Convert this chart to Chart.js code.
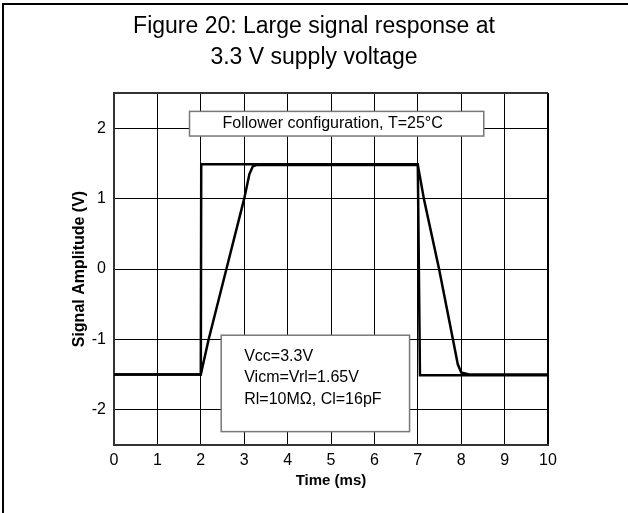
<!DOCTYPE html>
<html>
<head>
<meta charset="utf-8">
<script src="https://cdn.jsdelivr.net/npm/chart.js@4/dist/chart.umd.min.js"></script>
<style>
  body { margin: 0; background: #fff; }
  canvas { display: block; }
</style>
</head>
<body>
<canvas id="lineChart" width="628" height="513"></canvas>
<script>
// Values
const inputTime = [0, 2.0, 2.01, 7.0, 7.05, 10];
const inputVolt = [-1.5, -1.5, 1.49, 1.49, -1.51, -1.51];

const outputTime = [0, 2.0, 2.18, 2.59, 3.0, 3.12, 3.2, 3.3, 7.0, 7.14, 7.49, 7.81, 7.92, 8.0, 8.2, 10];
const outputVolt = [-1.5, -1.5, -1.0, 0, 1.0, 1.35, 1.46, 1.48, 1.48, 1.0, 0, -1.0, -1.35, -1.47, -1.5, -1.5];

const xTicks = [0, 1, 2, 3, 4, 5, 6, 7, 8, 9, 10];
const yTicks = [-2, -1, 0, 1, 2];
const yMin = -2.5;
const yMax = 2.5;

const titleLines = ['Figure 20: Large signal response at', '3.3 V supply voltage'];
const configText = 'Follower configuration, T=25°C';
const conditionLines = ['Vcc=3.3V', 'Vicm=Vrl=1.65V', 'Rl=10MΩ, Cl=16pF'];

const FONT = "'Liberation Sans', Arial, sans-serif";

// turn the parallel arrays into {x, y} points
function toPoints(xs, ys) {
  return xs.map((x, i) => ({ x: x, y: ys[i] }));
}

// frame lines and the two text boxes
const figureExtras = {
  id: 'figureExtras',
  beforeDraw(chart) {
    const ctx = chart.ctx;
    ctx.save();
    ctx.fillStyle = '#fff';
    ctx.fillRect(0, 0, chart.width, chart.height);
    ctx.strokeStyle = '#000';
    ctx.lineWidth = 2;
    ctx.beginPath();
    ctx.moveTo(3, chart.height);
    ctx.lineTo(3, 4);
    ctx.lineTo(chart.width, 4);
    ctx.stroke();
    ctx.restore();
  },
  afterDatasetsDraw(chart) {
    const ctx = chart.ctx;
    const xs = chart.scales.x;
    const ys = chart.scales.y;

    function box(x0, x1, y0, y1) {
      const l = xs.getPixelForValue(x0), r = xs.getPixelForValue(x1);
      const t = ys.getPixelForValue(y0), b = ys.getPixelForValue(y1);
      ctx.fillStyle = '#fff';
      ctx.fillRect(l, t, r - l, b - t);
      ctx.strokeStyle = '#777';
      ctx.lineWidth = 1.5;
      ctx.strokeRect(l, t, r - l, b - t);
      return { l: l, t: t };
    }

    ctx.save();
    ctx.font = '16px ' + FONT;
    ctx.textBaseline = 'middle';
    ctx.textAlign = 'left';

    const b1 = box(1.74, 8.52, 2.24, 1.89);
    ctx.fillStyle = '#000';
    ctx.fillText(configText, b1.l + 33, b1.t + 12.5);

    const b2 = box(2.47, 6.81, -0.94, -2.31);
    ctx.fillStyle = '#000';
    conditionLines.forEach((line, i) => {
      ctx.fillText(line, b2.l + 23, b2.t + 21 + i * 21.5);
    });
    ctx.restore();
  }
};

const ctx = document.getElementById('lineChart').getContext('2d');
new Chart(ctx, {
  type: 'line',
  data: {
    datasets: [{
      label: 'Input',
      data: toPoints(inputTime, inputVolt),
      borderColor: '#000',
      borderWidth: 2.5,
      pointRadius: 0,
      tension: 0
    }, {
      label: 'Output',
      data: toPoints(outputTime, outputVolt),
      borderColor: '#000',
      borderWidth: 2.5,
      pointRadius: 0,
      tension: 0
    }]
  },
  options: {
    responsive: false,
    animation: false,
    layout: { padding: 0 },
    plugins: {
      legend: { display: false },
      tooltip: { enabled: false },
      title: {
        display: true,
        text: titleLines,
        color: '#000',
        font: { family: FONT, size: 23, weight: 'normal', lineHeight: 1.35 },
        padding: { top: 11, bottom: 20 }
      }
    },
    scales: {
      x: {
        type: 'linear',
        min: xTicks[0],
        max: xTicks[xTicks.length - 1],
        afterBuildTicks: scale => { scale.ticks = xTicks.map(v => ({ value: v })); },
        afterFit: scale => { scale.height = 68; },
        ticks: {
          color: '#000',
          padding: 6,
          maxRotation: 0,
          font: { family: FONT, size: 16 }
        },
        grid: {
          drawTicks: false,
          color: '#000',
          lineWidth: c => (c.tick && (c.tick.value === 0 || c.tick.value === 10)) ? 2 : 1
        },
        border: { color: '#333', width: 2 },
        title: {
          display: true,
          text: 'Time (ms)',
          color: '#000',
          font: { family: FONT, size: 15, weight: 'bold' },
          padding: { top: 0, bottom: 23 }
        }
      },
      y: {
        type: 'linear',
        min: yMin,
        max: yMax,
        afterBuildTicks: scale => {
          scale.ticks = [yMin].concat(yTicks, [yMax]).map(v => ({ value: v }));
        },
        afterFit: scale => { scale.width = 114; },
        ticks: {
          color: '#000',
          padding: 8,
          font: { family: FONT, size: 16 },
          callback: v => yTicks.includes(v) ? String(v) : ''
        },
        grid: {
          drawTicks: false,
          color: c => (c.tick && Math.abs(c.tick.value) === yMax) ? '#333' : '#000',
          lineWidth: c => (c.tick && Math.abs(c.tick.value) === yMax) ? 2 : 1
        },
        border: { color: '#333', width: 2 },
        title: {
          display: true,
          text: 'Signal Amplitude (V)',
          color: '#000',
          font: { family: FONT, size: 16, weight: 'bold' },
          padding: { top: 70, bottom: 0 }
        }
      },
      // empty axis on the right to keep the white margin
      yRight: {
        position: 'right',
        display: true,
        afterFit: scale => { scale.width = 80; },
        ticks: { display: false },
        grid: { display: false },
        border: { display: false }
      }
    }
  },
  plugins: [figureExtras]
});
</script>
</body>
</html>
